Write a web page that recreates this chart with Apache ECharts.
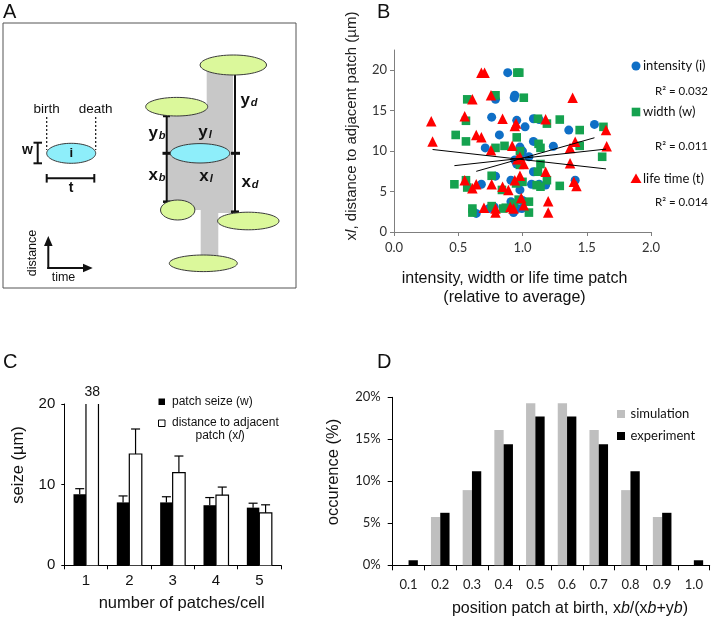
<!DOCTYPE html>
<html><head><meta charset="utf-8">
<script src="https://cdn.jsdelivr.net/npm/echarts@6/dist/echarts.min.js"></script>
<style>html,body{margin:0;padding:0;background:#fff}#c{width:712px;height:618px}</style>
</head><body><div id="c"></div>
<script>
// ---------- Panel B data (relative value, distance xl in µm) ----------
const intensityPts = [[0.885,19.7],[0.935,16.6],[0.94,16.9],[0.79,16.4],[0.76,14.2],[0.955,13.8],[1.02,13.0],[1.085,14.0],[1.13,13.9],[0.82,12.0],[1.36,12.6],[1.56,13.3],[1.24,10.6],[0.71,10.4],[1.085,11.2],[0.98,10.5],[1.0,10.0],[1.05,9.3],[0.955,8.4],[1.085,7.45],[0.79,6.9],[0.91,6.4],[1.41,6.4],[0.68,5.9],[1.07,5.9],[1.13,5.9],[0.98,5.2],[0.91,3.75],[0.78,3.1],[0.74,2.9],[0.995,2.9],[0.64,2.3],[0.93,2.4],[1.0,3.9],[0.96,2.9],[1.18,5.8],[0.94,8.9],[0.99,9.6],[0.93,3.3]];
const widthPts = [[0.96,19.7],[0.975,19.7],[0.57,16.4],[0.79,16.9],[1.01,16.6],[0.56,13.75],[1.12,14.0],[1.19,13.4],[1.29,13.9],[1.445,12.6],[1.63,13.0],[0.48,12.0],[0.56,11.2],[0.86,10.65],[0.79,10.4],[0.955,11.7],[0.98,10.0],[1.125,10.9],[1.14,10.4],[1.445,10.65],[1.62,9.3],[0.98,8.3],[1.14,8.4],[1.12,7.45],[0.76,6.95],[0.56,6.4],[1.0,6.2],[1.19,6.4],[0.47,5.9],[0.57,5.5],[1.29,5.7],[0.84,5.2],[1.14,5.6],[0.97,4.0],[1.05,3.75],[0.93,3.5],[0.76,3.2],[0.61,2.9],[0.85,2.9],[0.61,2.4],[1.05,2.4],[0.95,6.0],[1.11,5.8],[0.87,3.0]];
const lifetimePts = [[0.68,19.7],[0.705,19.7],[0.61,16.4],[0.755,16.9],[1.39,16.6],[0.29,13.7],[0.55,14.3],[0.845,14.0],[0.94,13.1],[0.95,13.4],[1.18,13.95],[1.65,12.6],[0.30,11.2],[0.64,12.0],[0.68,11.7],[0.755,10.1],[0.92,10.65],[1.37,10.4],[1.41,11.15],[1.655,10.6],[0.98,9.3],[1.01,8.4],[1.37,8.5],[1.18,7.45],[0.98,6.95],[0.55,6.4],[0.94,6.4],[1.40,6.2],[0.64,5.9],[0.76,5.9],[0.845,5.6],[0.61,5.4],[1.42,5.7],[0.89,5.2],[0.99,4.2],[1.2,3.8],[1.01,3.3],[0.70,3.0],[0.79,2.9],[0.905,3.1],[0.93,2.9],[0.79,2.4],[1.2,2.4],[0.96,9.0]];
const intensityTrend = [[0.64,7.5],[1.56,11.65]];
const widthTrend = [[0.47,8.2],[1.65,10.25]];
const lifetimeTrend = [[0.30,10.2],[1.65,7.8]];
const r2Labels = ['R\u00b2 = 0.032','R\u00b2 = 0.011','R\u00b2 = 0.014'];
const seriesNamesB = ['intensity (i)','width (w)','life time (t)'];

// ---------- Panel C data ----------
const categoriesC = ['1','2','3','4','5'];
const patchSize = [8.8,7.8,7.8,7.45,7.15];
const patchSizeErr = [0.7,0.8,0.7,0.95,0.55];
const distanceAdj = [38,13.8,11.5,8.7,6.5];
const distanceAdjErr = [0,3.1,2.05,1.0,1.0];
const yMaxC = 20;

// ---------- Panel D data (%) ----------
const categoriesD = ['0.1','0.2','0.3','0.4','0.5','0.6','0.7','0.8','0.9','1.0'];
const simulation = [0,5.75,8.95,16.1,19.3,19.3,16.1,8.95,5.75,0];
const experiment = [0.6,6.25,11.2,14.4,17.7,17.7,14.4,11.2,6.25,0.6];

const ARIAL = '"Liberation Sans", Arial, sans-serif';
const CAL = 'Lato, "Open Sans", sans-serif';
const BLUE = '#0f6fc6', GREEN = '#15a24f', RED = '#ff0000';
const BARW_C = 12.5;

function txt(x, y, text, font, align, valign, extra) {
  return Object.assign({type:'text', x:x, y:y, style:{text:text, font:font, fill:'#111', align:align||'center', verticalAlign:valign||'middle', textAlign:align||'center', textVerticalAlign:valign||'middle'}}, extra||{});
}
function rich(x, y, text, richDef, align, extra) {
  return Object.assign({type:'text', x:x, y:y, style:{text:text, rich:richDef, fill:'#111', align:align||'center', verticalAlign:'middle', textAlign:align||'center', textVerticalAlign:'middle'}}, extra||{});
}
const subRich = {
  m:{font:'bold 17px '+ARIAL, fill:'#111', verticalAlign:'bottom'},
  s:{font:'italic bold 11px '+ARIAL, fill:'#111', verticalAlign:'bottom', padding:[0,0,0,1]}
};
const GREENFILL = '#dbf89b', CYAN = '#8eeefa', EDGE = '#3a3a3a';
function ell(cx, cy, rx, ry, fill) {
  return {type:'ellipse', shape:{cx:cx, cy:cy, rx:rx, ry:ry}, style:{fill:fill, stroke:EDGE, lineWidth:1}};
}
function ln(x1, y1, x2, y2, w, dash) {
  return {type:'line', shape:{x1:x1, y1:y1, x2:x2, y2:y2}, style:{stroke:'#111', lineWidth:w||2, lineDash:dash||null}};
}

const graphics = [
  txt(3, 2, 'A', '20px '+ARIAL, 'left', 'top'),
  txt(377, 2, 'B', '20px '+ARIAL, 'left', 'top'),
  txt(3, 352, 'C', '20px '+ARIAL, 'left', 'top'),
  txt(377, 352, 'D', '20px '+ARIAL, 'left', 'top'),
  {type:'rect', shape:{x:3, y:23, width:293, height:265}, style:{fill:'none', stroke:'#555', lineWidth:1}},
  {type:'polygon', shape:{points:[[206.7,68],[233,68],[233,213],[218.3,213],[218.3,258],[200.7,258],[200.7,210],[166.7,210],[166.7,108],[206.7,108]]}, style:{fill:'#c8c8c8'}},
  ln(166.7,116,166.7,201.7,2), ln(235,75,235,211.7,2),
  ln(163,116,170,116,2.5), ln(162.5,153.3,171,153.3,3), ln(163,201.7,170.5,201.7,2.5),
  ln(231,153.3,240,153.3,3), ln(231,211.7,239,211.7,2.5),
  ell(233.3,65,33.2,10,GREENFILL),
  ell(176.7,106.7,31,9.3,GREENFILL),
  ell(200,153.3,29.7,9.7,CYAN),
  ell(177.7,210,17.2,10,GREENFILL),
  ell(248.3,221,30.7,8.8,GREENFILL),
  ell(203.3,263.3,34,8.3,GREENFILL),
  rich(157,133,'{m|y}{s|b}',subRich),
  rich(205,132,'{m|y}{s|l}',subRich),
  rich(249,100,'{m|y}{s|d}',subRich),
  rich(157,175,'{m|x}{s|b}',subRich),
  rich(206,176,'{m|x}{s|l}',subRich),
  rich(250,182,'{m|x}{s|d}',subRich),
  ln(46.7,117,46.7,150,1.2,[2,2]), ln(95.7,117,95.7,150,1.2,[2,2]),
  txt(46.7,109,'birth','13.5px '+ARIAL),
  txt(95.7,109,'death','13.5px '+ARIAL),
  ell(71.2,153.3,24.5,10,CYAN),
  txt(71.2,153.5,'i','bold 13px '+ARIAL),
  txt(27.5,150,'w','bold 14px '+ARIAL),
  ln(37.7,142.7,37.7,163.3,2), ln(33.5,142.7,42,142.7,2), ln(33.5,163.3,42,163.3,2),
  ln(46.7,178.3,94.3,178.3,2), ln(46.7,174,46.7,182.6,2), ln(94.3,174,94.3,182.6,2),
  txt(71,188.5,'t','bold 14px '+ARIAL),
  ln(48.3,269,48.3,245,2),
  {type:'polygon', shape:{points:[[48.3,236],[44,246],[52.6,246]]}, style:{fill:'#111'}},
  ln(47.3,268,84,268,2),
  {type:'polygon', shape:{points:[[92.7,268],[83,263.8],[83,272.2]]}, style:{fill:'#111'}},
  txt(33,253,'distance','12.5px '+ARIAL,'center','middle',{rotation:Math.PI/2}),
  txt(63.5,278,'time','12.5px '+ARIAL),
  rich(352,126,'{a|x}{b|l}{a|, distance to adjacent patch (µm)}',{a:{font:'15px '+ARIAL, fill:'#222'}, b:{font:'italic 15px '+ARIAL, fill:'#222'}},'center',{rotation:Math.PI/2}),
  txt(514.5,279,'intensity, width or life time patch','16px '+ARIAL),
  txt(514.5,297.5,'(relative to average)','16px '+ARIAL),
  {type:'circle', shape:{cx:636, cy:66, r:4.5}, style:{fill:BLUE}},
  txt(643,66,seriesNamesB[0],'13px '+CAL,'left'),
  txt(708,91,r2Labels[0],'11.5px '+CAL,'right'),
  {type:'rect', shape:{x:631.7, y:107.7, width:8.6, height:8.6}, style:{fill:GREEN}},
  txt(643,112,seriesNamesB[1],'13px '+CAL,'left'),
  txt(708,146,r2Labels[1],'11.5px '+CAL,'right'),
  {type:'polygon', shape:{points:[[636,173.5],[641.5,183],[630.5,183]]}, style:{fill:RED}},
  txt(643,179,seriesNamesB[2],'13px '+CAL,'left'),
  txt(708,202,r2Labels[2],'11.5px '+CAL,'right'),
  txt(18,465,'seize (µm)','16.5px '+ARIAL,'center','middle',{rotation:Math.PI/2}),
  txt(181.7,603,'number of patches/cell','16.5px '+ARIAL),
  {type:'rect', shape:{x:158.5, y:398.5, width:6.5, height:6.5}, style:{fill:'#000'}},
  txt(172,402,'patch seize (w)','12px '+ARIAL,'left'),
  {type:'rect', shape:{x:158.5, y:420, width:6.5, height:6.5}, style:{fill:'#fff', stroke:'#000', lineWidth:1}},
  txt(172,423,'distance to adjacent','12px '+ARIAL,'left'),
  rich(195.5,436,'{a|patch (x}{b|l}{a|)}',{a:{font:'12px '+ARIAL, fill:'#111'}, b:{font:'italic 12px '+ARIAL, fill:'#111'}},'left'),
  txt(333,472,'occurence (%)','16.5px '+ARIAL,'center','middle',{rotation:Math.PI/2}),
  rich(570,609,'{a|position patch at birth, x}{b|b}{a|/(x}{b|b}{a|+y}{b|b}{a|)}',{a:{font:'16px '+ARIAL, fill:'#111'}, b:{font:'italic 16px '+ARIAL, fill:'#111'}}),
  {type:'rect', shape:{x:617, y:410, width:8, height:8}, style:{fill:'#bfbfbf'}},
  txt(630.5,414,'simulation','13px '+CAL,'left'),
  {type:'rect', shape:{x:617, y:432, width:8, height:8}, style:{fill:'#000'}},
  txt(630.5,436,'experiment','13px '+CAL,'left')
];

function errRender(side) {
  return function (params, api) {
    const i = api.value(0), v = api.value(1), e = api.value(2);
    const cx = api.coord([i, 0])[0] + side * BARW_C / 2;
    const ymaxPix = api.coord([i, yMaxC])[1];
    if (v > yMaxC) {
      return {type:'text', x:cx, y:ymaxPix - 5, style:{text:String(v), font:'14px '+ARIAL, fill:'#111', align:'center', verticalAlign:'bottom', textAlign:'center', textVerticalAlign:'bottom'}};
    }
    const y0 = api.coord([i, v])[1], y1 = api.coord([i, v + e])[1];
    return {type:'group', children:[
      {type:'line', shape:{x1:cx, y1:y0, x2:cx, y2:y1}, style:{stroke:'#000', lineWidth:1.2}},
      {type:'line', shape:{x1:cx-4.5, y1:y1, x2:cx+4.5, y2:y1}, style:{stroke:'#000', lineWidth:1.2}}
    ]};
  };
}
// outline of the open (white) bars: sides always, top only when not cut by the axis max
function outlineRender(params, api) {
  const i = api.value(0), v = api.value(1);
  const c = api.coord([i, 0]);
  const l = c[0], r = c[0] + BARW_C, yb = c[1];
  const yt = api.coord([i, Math.min(v, yMaxC)])[1];
  const pts = v > yMaxC ? null : [[l, yb], [l, yt], [r, yt], [r, yb]];
  if (pts) return {type:'polyline', shape:{points:pts}, style:{stroke:'#000', lineWidth:1.2, fill:null}};
  return {type:'group', children:[
    {type:'line', shape:{x1:l, y1:yb, x2:l, y2:yt}, style:{stroke:'#000', lineWidth:1.2}},
    {type:'line', shape:{x1:r, y1:yb, x2:r, y2:yt}, style:{stroke:'#000', lineWidth:1.2}}
  ]};
}

const axB = {lineStyle:{color:'#7f7f7f', width:1}};
const axK = {lineStyle:{color:'#000', width:1}};

const option = {
  animation:false,
  backgroundColor:'#fff',
  grid:[
    {left:394, top:50, width:257, height:182, outerBoundsMode:'none', containLabel:false},
    {left:64.3, top:404, width:216.7, height:161.3, outerBoundsMode:'none', containLabel:false},
    {left:392.7, top:397.3, width:317, height:168, outerBoundsMode:'none', containLabel:false}
  ],
  xAxis:[
    {type:'value', gridIndex:0, min:0, max:2, interval:0.5, axisLine:axB, axisTick:{show:true, length:4, lineStyle:{color:'#7f7f7f'}},
     axisLabel:{formatter:v=>v.toFixed(1), fontFamily:CAL, fontSize:13, color:'#333', margin:9}, splitLine:{show:false}},
    {type:'category', gridIndex:1, data:categoriesC, axisLine:axK, axisTick:{show:true, length:4, lineStyle:{color:'#000'}},
     axisLabel:{fontFamily:ARIAL, fontSize:15, color:'#111', margin:8}, splitLine:{show:false}},
    {type:'category', gridIndex:2, data:categoriesD, axisLine:axK, axisTick:{show:true, length:5, lineStyle:{color:'#000'}},
     axisLabel:{fontFamily:CAL, fontSize:13, color:'#222', margin:13}, splitLine:{show:false}}
  ],
  yAxis:[
    {type:'value', gridIndex:0, min:0, max:22.5, interval:5, axisLine:Object.assign({show:true},axB),
     axisTick:{show:true, length:4, lineStyle:{color:'#7f7f7f'}, customValues:[0,5,10,15,20]},
     axisLabel:{fontFamily:CAL, fontSize:13, color:'#333', margin:7, customValues:[0,5,10,15,20]}, splitLine:{show:false}},
    {type:'value', gridIndex:1, min:0, max:yMaxC, interval:10, axisLine:Object.assign({show:true},axK),
     axisTick:{show:true, length:3, lineStyle:{color:'#000'}},
     axisLabel:{fontFamily:ARIAL, fontSize:15, color:'#111', margin:9}, splitLine:{show:false}},
    {type:'value', gridIndex:2, min:0, max:20, interval:5, axisLine:Object.assign({show:true},axK),
     axisTick:{show:true, length:5, lineStyle:{color:'#000'}},
     axisLabel:{formatter:v=>v+'%', fontFamily:CAL, fontSize:13, color:'#222', margin:12}, splitLine:{show:false}}
  ],
  series:[
    {type:'scatter', name:seriesNamesB[0], xAxisIndex:0, yAxisIndex:0, data:intensityPts, symbol:'circle', symbolSize:9, itemStyle:{color:BLUE, opacity:1}},
    {type:'scatter', name:seriesNamesB[1], xAxisIndex:0, yAxisIndex:0, data:widthPts, symbol:'rect', symbolSize:8.6, itemStyle:{color:GREEN, opacity:1}},
    {type:'scatter', name:seriesNamesB[2], xAxisIndex:0, yAxisIndex:0, data:lifetimePts, symbol:'triangle', symbolSize:10.5, itemStyle:{color:RED, opacity:1}},
    {type:'line', xAxisIndex:0, yAxisIndex:0, data:intensityTrend, showSymbol:false, symbol:'none', lineStyle:{color:'#000', width:1}, z:5},
    {type:'line', xAxisIndex:0, yAxisIndex:0, data:widthTrend, showSymbol:false, symbol:'none', lineStyle:{color:'#000', width:1}, z:5},
    {type:'line', xAxisIndex:0, yAxisIndex:0, data:lifetimeTrend, showSymbol:false, symbol:'none', lineStyle:{color:'#000', width:1}, z:5},
    {type:'bar', xAxisIndex:1, yAxisIndex:1, data:patchSize, barWidth:BARW_C, barGap:'0%', itemStyle:{color:'#000'}},
    {type:'bar', xAxisIndex:1, yAxisIndex:1, data:distanceAdj, barWidth:BARW_C, barGap:'0%', itemStyle:{color:'#fff', borderWidth:0}},
    {type:'custom', xAxisIndex:1, yAxisIndex:1, data:distanceAdj.map((v,i)=>[i,v]), encode:{x:0,y:1}, renderItem:outlineRender, z:3},
    {type:'custom', xAxisIndex:1, yAxisIndex:1, data:patchSize.map((v,i)=>[i,v,patchSizeErr[i]]), encode:{x:0,y:1}, renderItem:errRender(-1), z:4},
    {type:'custom', xAxisIndex:1, yAxisIndex:1, data:distanceAdj.map((v,i)=>[i,v,distanceAdjErr[i]]), encode:{x:0,y:1}, renderItem:errRender(1), z:4},
    {type:'bar', xAxisIndex:2, yAxisIndex:2, data:simulation, barWidth:9.3, barGap:'0%', itemStyle:{color:'#bfbfbf'}},
    {type:'bar', xAxisIndex:2, yAxisIndex:2, data:experiment, barWidth:9.3, barGap:'0%', itemStyle:{color:'#000'}}
  ],
  graphic:graphics
};
const chart = echarts.init(document.getElementById('c'), null, {renderer:'canvas'});
chart.setOption(option);
</script>
</body></html>
